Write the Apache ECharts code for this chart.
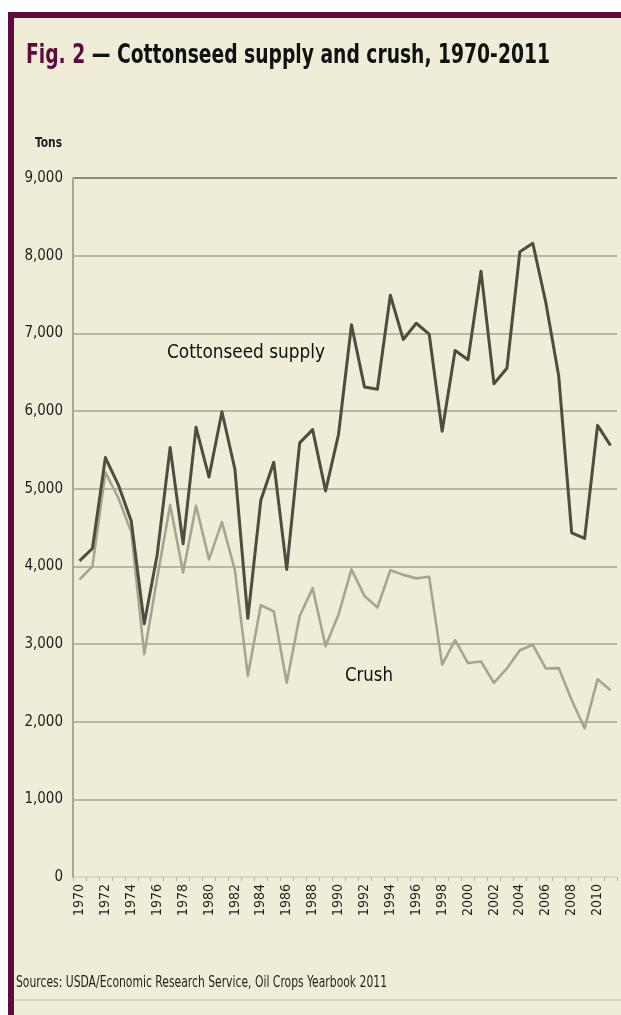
<!DOCTYPE html>
<html><head><meta charset="utf-8">
<script src="https://cdn.jsdelivr.net/npm/echarts@6/dist/echarts.min.js"></script>
<style>
html,body{margin:0;padding:0;background:#fff;}
#wrap{position:relative;width:621px;height:1015px;overflow:hidden;background:#fff;}
#frame{position:absolute;left:8px;top:12px;width:613px;height:1003px;background:#efedd7;border-left:6px solid #5e0a3d;border-top:6px solid #5e0a3d;box-sizing:border-box;}
#chart{position:absolute;left:0;top:0;width:621px;height:1015px;}
</style></head><body>
<div id="wrap"><div id="frame"></div><div id="chart"></div></div>
<script>
const years = ['1970','1971','1972','1973','1974','1975','1976','1977','1978','1979',
  '1980','1981','1982','1983','1984','1985','1986','1987','1988','1989',
  '1990','1991','1992','1993','1994','1995','1996','1997','1998','1999',
  '2000','2001','2002','2003','2004','2005','2006','2007','2008','2009',
  '2010','2011'];
const supply = [4070, 4230, 5400, 5050, 4580, 3260, 4150, 5530, 4290, 5790,
  5150, 5990, 5250, 3330, 4850, 5340, 3960, 5590, 5760, 4970,
  5700, 7110, 6310, 6280, 7490, 6920, 7130, 6990, 5740, 6780,
  6660, 7800, 6350, 6550, 8050, 8160, 7400, 6450, 4430, 4360,
  5815, 5555];
const crush = [3830, 4000, 5210, 4880, 4440, 2870, 3850, 4790, 3920, 4780,
  4090, 4570, 3950, 2590, 3500, 3420, 2500, 3360, 3720, 2970,
  3380, 3960, 3620, 3470, 3950, 3890, 3845, 3865, 2735, 3050,
  2755, 2775, 2500, 2685, 2920, 2990, 2685, 2690, 2280, 1915,
  2545, 2405];
const yTicks = [0, 1000, 2000, 3000, 4000, 5000, 6000, 7000, 8000, 9000];

const FN = '"Liberation Sans Narrow","DejaVu Sans Condensed",sans-serif';
function txt(x, y, text, size, weight, fill, sx) {
  return {type: 'text', x: x, y: y, scaleX: sx, scaleY: 1, originX: 0, originY: 0,
    style: {text: text, fontFamily: FN, fontSize: size, fontWeight: weight, fill: fill,
      textAlign: 'left', textVerticalAlign: 'top'}};
}
const chart = echarts.init(document.getElementById('chart'), null, {renderer: 'canvas'});
chart.setOption({
  backgroundColor: 'transparent',
  animation: false,
  grid: {left: 73, right: 4, top: 178, bottom: 138, containLabel: false},
  xAxis: {
    type: 'category', data: years, boundaryGap: true,
    axisLine: {show: false},
    axisTick: {show: true, interval: 0, length: 4, lineStyle: {color: '#b9b7a0', width: 1}},
    axisLabel: {interval: 1, rotate: 90, fontFamily: FN, fontSize: 14, color: '#1e1e1e', margin: 7},
    splitLine: {show: false}
  },
  yAxis: {
    type: 'value', min: yTicks[0], max: yTicks[yTicks.length - 1], interval: 1000,
    axisLine: {show: true, lineStyle: {color: '#a9a893', width: 2}},
    axisTick: {show: false},
    axisLabel: {fontFamily: FN, fontSize: 15, color: '#1e1e1e', margin: 10,
      formatter: v => v.toLocaleString('en-US')},
    splitLine: {show: true, lineStyle: {width: 2,
      color: ['#dcdac4', '#b9b79f', '#b9b79f', '#b9b79f', '#b9b79f', '#b9b79f', '#b9b79f', '#b9b79f', '#b9b79f', '#8f8e78']}}
  },
  series: [
    {type: 'line', name: 'Crush', data: crush, symbol: 'none', z: 3,
      lineStyle: {color: '#a6a58e', width: 2.6, join: 'round'}},
    {type: 'line', name: 'Cottonseed supply', data: supply, symbol: 'none', z: 4,
      lineStyle: {color: '#4e4d41', width: 3, join: 'round'}}
  ],
  graphic: [
    {type: 'text', x: 26, y: 43, scaleX: 0.8, originX: 0, originY: 0, style: {
      text: '{a|Fig. 2 }{b|— Cottonseed supply and crush, 1970-2011}',
      textVerticalAlign: 'top',
      rich: {
        a: {fontFamily: FN, fontWeight: 'bold', fontSize: 26, fill: '#5e0a3d'},
        b: {fontFamily: FN, fontWeight: 'bold', fontSize: 26, fill: '#111'}
      }}},
    txt(35, 136, 'Tons', 14, 'bold', '#1e1e1e', 0.85),
    txt(167, 343, 'Cottonseed supply', 20, 'normal', '#111', 0.94),
    txt(345, 666, 'Crush', 20, 'normal', '#111', 0.92),
    txt(16, 976, 'Sources: USDA/Economic Research Service, Oil Crops Yearbook 2011', 15, 'normal', '#1e1e1e', 0.8),
    {type: 'rect', shape: {x: 14, y: 999, width: 607, height: 2}, style: {fill: '#d6d4bd'}}
  ]
});
</script>
</body></html>
